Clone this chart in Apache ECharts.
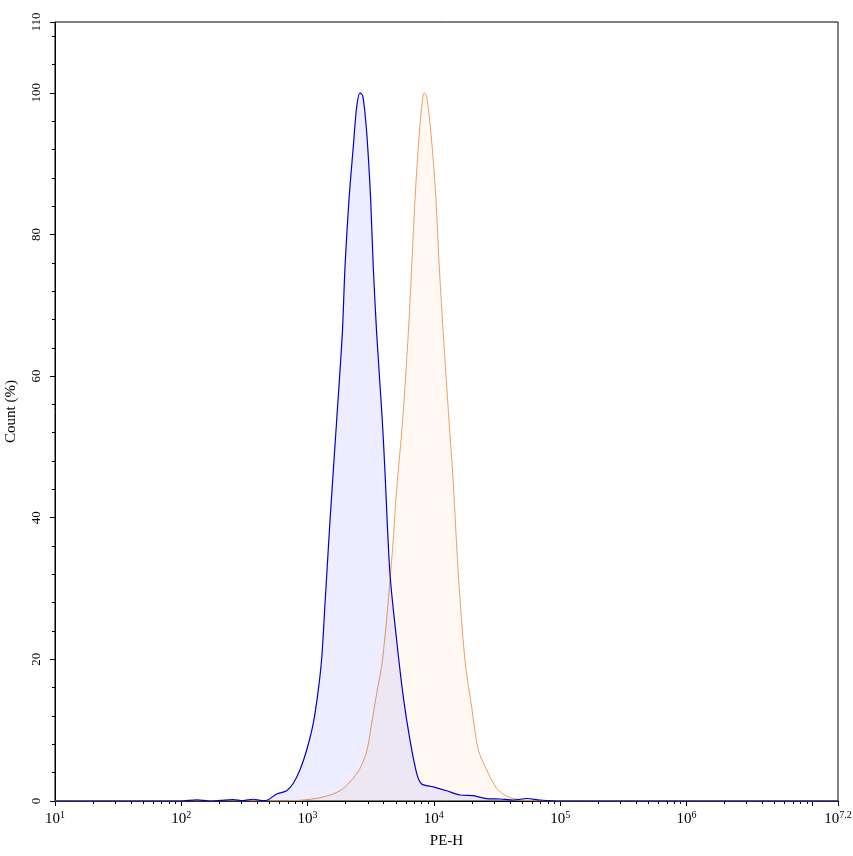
<!DOCTYPE html>
<html>
<head>
<meta charset="utf-8">
<script src="https://cdn.jsdelivr.net/npm/echarts@6/dist/echarts.min.js"></script>
<style>
html,body{margin:0;padding:0;background:#fff;}
#chart{width:853px;height:856px;}
</style>
</head>
<body>
<div id="chart"></div>
<script>
// ---- data (PE-H intensity, Count %) ----
const blueX = [10, 98, 133, 169, 257, 308, 370, 436, 477, 569, 683, 771, 871, 984, 1110, 1216, 1294, 1373, 1504, 1700, 1883, 1978, 2127, 2301, 2447, 2600, 2731, 2899, 3026, 3160, 3313, 3525, 3904, 4100, 4487, 5074, 5726, 6471, 7311, 8004, 9886, 12620, 16100, 20510, 26180, 33360, 42560, 54320, 69180, 99540, 15848932];
const blueY = [0, 0, 0.15, 0, 0.2, 0.05, 0.25, 0.05, 0.1, 1.0, 1.45, 2.5, 4.4, 7.2, 11.0, 15.7, 20.2, 27.7, 39.5, 53.8, 66, 75.4, 84.9, 92.4, 98, 100, 99.6, 95.7, 91, 84.9, 75.4, 66, 53.8, 46.5, 32.2, 22.7, 14.7, 8.6, 3.9, 2.4, 2.0, 1.45, 0.85, 0.75, 0.33, 0.28, 0.14, 0.35, 0.14, 0, 0];

const orangeX = [10, 642, 1045, 1416, 1806, 2167, 2600, 2938, 3219, 3524, 3919, 4634, 5074, 5662, 6271, 6672, 7086, 7530, 8004, 8395, 8770, 9311, 9886, 10390, 11040, 11870, 13170, 14250, 15600, 17620, 19910, 22490, 26180, 31410, 37670, 45290, 57680, 75860, 15848932];
const orangeY = [0, 0, 0.24, 0.7, 1.45, 2.7, 4.6, 7.0, 11, 15.2, 19.9, 34, 44, 53.8, 66, 75.4, 84.9, 92.4, 98, 100, 99.5, 95.7, 90.5, 84.9, 75.4, 66, 53.8, 44.9, 32.2, 19.9, 13.3, 7.2, 4.4, 1.8, 0.7, 0.24, 0.05, 0, 0];

const xMajorTicks = [1e1, 1e2, 1e3, 1e4, 1e5, 1e6, 1e7, 15848932];
const xLabelTicks = [1e1, 1e2, 1e3, 1e4, 1e5, 1e6, 15848932];
const yTicks = [0, 20, 40, 60, 80, 100, 110];
const xTitle = 'PE-H';
const yTitle = 'Count (%)';

// ---- build ----
const xMinor = [];
for (let d = 1e1; d < 1e7; d *= 10) {
  for (let k = 2; k <= 9; k++) xMinor.push(k * d);
}
const yMinor = [];
for (let v = 4; v < 110; v += 4) { if (v % 20 !== 0) yMinor.push(v); }

const FONT = 'Liberation Serif';
const pair = (xs, ys) => xs.map((x, i) => [x, ys[i]]);

const gridPos = {left: 55, right: 15, top: 22, bottom: 55, containLabel: false, outerBoundsMode: 'none'};

const chart = echarts.init(document.getElementById('chart'), null, {renderer: 'canvas'});
chart.setOption({
  animation: false,
  backgroundColor: '#fff',
  textStyle: {fontFamily: FONT, color: '#000'},
  grid: [
    Object.assign({show: true, borderColor: '#000', borderWidth: 1, backgroundColor: 'transparent'}, gridPos),
    Object.assign({show: false}, gridPos)
  ],
  xAxis: [{
    type: 'log', logBase: 10, gridIndex: 0, min: 10, max: 15848932,
    name: xTitle, nameLocation: 'middle', nameGap: 33,
    nameTextStyle: {fontFamily: FONT, fontSize: 15, color: '#000'},
    axisLine: {show: true, lineStyle: {color: '#000', width: 1}},
    axisTick: {show: true, inside: false, length: 5, lineStyle: {color: '#000'}, customValues: xMajorTicks},
    axisLabel: {
      show: true, margin: 9, color: '#000', fontFamily: FONT, fontSize: 15, lineHeight: 18,
      customValues: xLabelTicks,
      formatter: function (v) {
        const e = Math.round(Math.log10(v) * 10) / 10;
        return '10{s|' + e + '}';
      },
      rich: {
        s: {fontFamily: FONT, fontSize: 10, color: '#000', lineHeight: 10, verticalAlign: 'top'}
      }
    },
    splitLine: {show: false}, minorTick: {show: false}
  }, {
    type: 'log', logBase: 10, gridIndex: 1, min: 10, max: 15848932,
    axisLine: {show: false},
    axisTick: {show: true, inside: false, length: 3, lineStyle: {color: '#000'}, customValues: xMinor},
    axisLabel: {show: false}, splitLine: {show: false}
  }],
  yAxis: [{
    type: 'value', gridIndex: 0, min: 0, max: 110,
    name: yTitle, nameLocation: 'middle', nameGap: 36, nameRotate: 90,
    nameTextStyle: {fontFamily: FONT, fontSize: 15, color: '#000'},
    axisLine: {show: true, lineStyle: {color: '#000', width: 1}},
    axisTick: {show: true, inside: false, length: 5, lineStyle: {color: '#000'}, customValues: yTicks},
    axisLabel: {show: true, rotate: 90, margin: 12, color: '#000', fontFamily: FONT, fontSize: 13, customValues: yTicks},
    splitLine: {show: false}
  }, {
    type: 'value', gridIndex: 1, min: 0, max: 110,
    axisLine: {show: false},
    axisTick: {show: true, inside: false, length: 3, lineStyle: {color: '#000'}, customValues: yMinor},
    axisLabel: {show: false}, splitLine: {show: false}
  }],
  series: [{
    name: 'orange', type: 'line', xAxisIndex: 0, yAxisIndex: 0,
    data: pair(orangeX, orangeY), smooth: 0.3, showSymbol: false, symbol: 'none',
    lineStyle: {color: '#EE9F62', width: 1},
    areaStyle: {color: 'rgba(255,160,80,0.1)'},
    z: 2
  }, {
    name: 'blue', type: 'line', xAxisIndex: 0, yAxisIndex: 0,
    data: pair(blueX, blueY), smooth: 0.3, showSymbol: false, symbol: 'none',
    lineStyle: {color: '#0000CD', width: 1.2},
    areaStyle: {color: 'rgba(0,0,255,0.1)'},
    z: 3
  }]
});
</script>
</body>
</html>
